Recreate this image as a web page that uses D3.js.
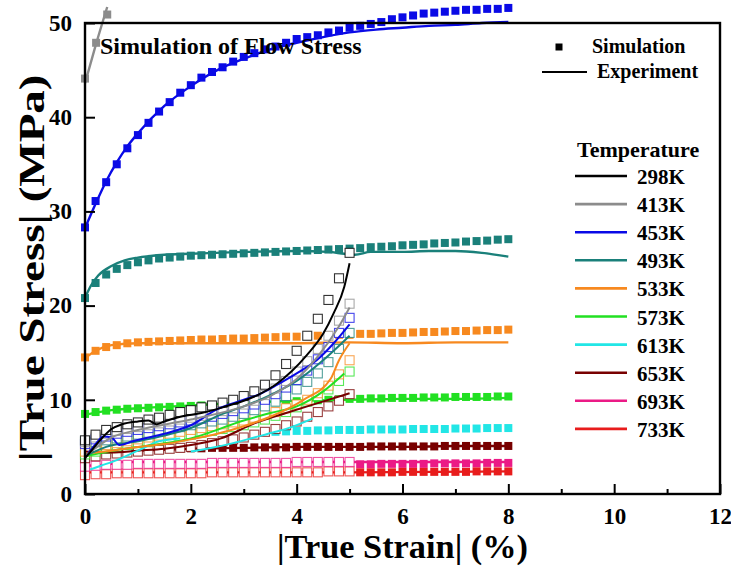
<!DOCTYPE html>
<html><head><meta charset="utf-8">
<script src="https://cdn.jsdelivr.net/npm/d3@7/dist/d3.min.js"></script>
<style>
body{margin:0;background:#fff}
svg{display:block}
text{font-family:"Liberation Serif","Times New Roman",serif;font-weight:bold;fill:#000}
</style>
</head><body>
<svg id="chart" width="731" height="566"></svg>
<script>
// Temperatures and their colours
const temps = ["298K","413K","453K","493K","533K","573K","613K","653K","693K","733K"];
const tempColors = ["#000000","#8c8c8c","#0a0ae6","#1a807a","#f7891f","#22e022","#22e6e6","#780000","#eb1a86","#e81c1c"];

// Axis ticks
const xTicks = [0,2,4,6,8,10,12];
const xMinorTicks = [1,3,5,7,9,11];
const yTicks = [0,10,20,30,40,50];

// Simulated flow stress (filled squares), sampled every 0.2 % strain
const simStep = 0.2;
const sim413 = [[0,44.1],[0.21,47.9],[0.42,50.9]];
const sim453 = [28.3,31.1,33.1,35.0,36.7,38.1,39.4,40.6,41.6,42.6,43.4,44.2,44.8,45.3,45.9,46.4,46.8,47.2,47.5,47.9,48.3,48.5,48.7,49.0,49.2,49.5,49.7,49.9,50.1,50.4,50.6,50.8,51.0,51.1,51.2,51.3,51.4,51.4,51.5,51.5,51.6];
const sim493 = [20.8,22.4,23.3,23.9,24.3,24.6,24.8,25.0,25.1,25.2,25.3,25.35,25.4,25.45,25.5,25.55,25.6,25.65,25.7,25.75,25.8,25.85,25.9,25.95,26.0,26.05,26.1,26.2,26.25,26.3,26.4,26.45,26.5,26.6,26.65,26.7,26.8,26.85,26.9,27.0,27.05];
const sim533 = [14.5,15.2,15.6,15.8,16.0,16.1,16.15,16.2,16.25,16.3,16.35,16.4,16.4,16.45,16.5,16.5,16.55,16.6,16.65,16.7,16.7,16.75,16.8,16.85,16.9,16.9,17.0,17.0,17.05,17.1,17.1,17.15,17.2,17.2,17.25,17.3,17.3,17.35,17.4,17.4,17.45];
const sim573 = [8.5,8.7,8.85,8.95,9.05,9.1,9.15,9.2,9.25,9.3,9.35,9.4,9.45,9.5,9.55,9.6,9.65,9.7,9.75,9.8,9.85,9.9,9.95,10.0,10.05,10.1,10.1,10.15,10.15,10.2,10.2,10.2,10.25,10.25,10.25,10.3,10.3,10.3,10.3,10.35,10.35];
const sim613Start = 3.6;
const sim613 = [6.6,6.65,6.7,6.7,6.75,6.75,6.8,6.8,6.8,6.85,6.85,6.85,6.85,6.9,6.9,6.9,6.9,6.95,6.95,6.95,7.0,7.0,7.0];
const sim653 = [4.6,4.65,4.7,4.7,4.75,4.75,4.8,4.8,4.8,4.85,4.85,4.85,4.9,4.9,4.9,4.9,4.95,4.95,4.95,4.95,5.0,5.0,5.0,5.0,5.0,5.0,5.0,5.05,5.05,5.05,5.05,5.05,5.05,5.05,5.1,5.1,5.1,5.1,5.1,5.1,5.1];
const sim693Start = 5.2;
const sim693 = [3.15,3.15,3.2,3.2,3.2,3.2,3.2,3.25,3.25,3.25,3.25,3.25,3.3,3.3,3.3];
const sim733Start = 5.2;
const sim733 = [2.3,2.3,2.3,2.3,2.35,2.35,2.35,2.35,2.35,2.35,2.35,2.4,2.4,2.4,2.4];

// Measured flow stress (solid lines), [strain %, stress MPa]
const exp413 = [[0,43.6],[0.2,47.6],[0.42,51.7]];
const exp453 = [[0,28.2],[0.2,30.8],[0.4,33.2],[0.6,35.2],[0.8,36.9],[1.0,38.3],[1.5,41.2],[2.0,43.3],[2.5,45.0],[3.0,46.2],[3.5,47.2],[4.0,47.9],[4.5,48.5],[5.0,49.0],[5.5,49.3],[6.0,49.5],[6.5,49.7],[7.0,49.8],[7.5,50.0],[8.0,50.1]];
const exp493 = [[0,20.8],[0.1,22.0],[0.25,23.2],[0.5,24.2],[0.75,24.8],[1.0,25.1],[1.5,25.4],[2.0,25.5],[3.0,25.7],[4.0,25.8],[4.6,25.7],[4.9,25.5],[5.1,25.4],[5.4,25.7],[6.0,25.7],[6.5,25.8],[7.0,25.8],[7.5,25.6],[8.0,25.2]];
const exp533 = [[0,14.4],[0.2,15.2],[0.5,15.8],[1.0,16.0],[2.0,16.0],[4.0,16.0],[5.0,16.1],[6.0,16.0],[7.0,16.1],[8.0,16.1]];
const exp573 = [[0,8.4],[0.5,8.9],[1,9.1],[2,9.4],[3,9.7],[4,9.9],[5,10.0],[6,10.1],[7,10.1],[8,10.2]];
const exp653 = [[0,4.7],[0.3,4.4],[0.6,4.5],[1,4.6],[2,4.8],[3,4.9],[4,5.0],[5,5.0],[6,5.0],[7,5.1],[8,5.1]];
const exp693 = [[0,3.0],[0.4,3.1],[0.7,3.4],[2,3.4],[4,3.4],[5,3.4],[6,3.4],[8,3.4]];
const exp733 = [[0,2.3],[2,2.3],[5,2.3],[8,2.4]];

// Low-stress data set up to 5 % strain (open squares), every 0.2 % strain
const open298 = [5.7,6.3,6.8,7.1,7.4,7.6,7.9,8.1,8.4,8.7,8.9,9.2,9.4,9.7,10.0,10.4,10.9,11.6,12.6,13.8,15.2,16.8,18.6,20.6,22.9,25.6];
const open413 = [5.5,6.0,6.4,6.7,6.9,7.1,7.3,7.5,7.7,7.9,8.1,8.3,8.5,8.8,9.1,9.5,9.9,10.5,11.2,12.0,13.0,14.1,15.4,16.8,18.4,20.2];
const open453 = [5.3,5.8,6.1,6.4,6.6,6.8,7.0,7.2,7.4,7.6,7.8,8.0,8.2,8.5,8.8,9.1,9.5,10.0,10.6,11.3,12.1,13.1,14.3,15.6,17.1,18.7];
const open493 = [5.6,5.5,5.7,5.9,6.1,6.3,6.5,6.7,6.9,7.1,7.3,7.5,7.7,7.9,8.2,8.5,8.9,9.3,9.8,10.4,11.1,11.9,12.8,14.0,15.4,17.1];
const open533 = [4.5,4.9,5.2,5.4,5.6,5.8,6.0,6.2,6.4,6.6,6.8,7.0,7.2,7.4,7.6,7.8,8.1,8.4,8.7,9.1,9.5,10.0,10.7,11.5,12.7,14.2];
const open573 = [4.2,4.5,4.8,5.0,5.2,5.4,5.5,5.7,5.9,6.1,6.3,6.5,6.7,6.9,7.1,7.3,7.6,7.9,8.3,8.7,9.2,9.8,10.4,11.1,12.0,13.0];
const open653 = [3.8,4.0,4.2,4.3,4.4,4.5,4.6,4.7,4.8,4.9,5.0,5.2,5.4,5.6,5.8,6.0,6.3,6.6,6.9,7.3,7.7,8.2,8.7,9.3,9.9,10.6];
const open693 = [2.9,3.0,3.1,3.1,3.1,3.2,3.2,3.2,3.2,3.2,3.2,3.2,3.3,3.3,3.3,3.3,3.3,3.3,3.3,3.3,3.4,3.4,3.4,3.4,3.4,3.4];
const open733 = [2.0,2.1,2.1,2.2,2.2,2.2,2.2,2.2,2.2,2.2,2.2,2.2,2.3,2.3,2.3,2.3,2.3,2.3,2.3,2.3,2.3,2.3,2.3,2.4,2.4,2.4];

// Low-stress measured curves (thin lines)
const low298 = [[0,3.8],[0.15,4.8],[0.3,5.8],[0.5,6.9],[0.7,7.4],[1.0,7.7],[1.2,7.8],[1.35,7.4],[1.5,7.7],[1.8,8.2],[2.2,8.6],[2.6,9.2],[3.0,9.9],[3.3,10.6],[3.6,11.6],[3.9,13.0],[4.2,14.8],[4.5,17.0],[4.7,19.2],[4.9,22.0],[5.0,24.5]];
const low413 = [[0,4.0],[0.5,6.0],[1,6.8],[2,7.9],[3,9.3],[3.5,10.4],[4,12.2],[4.4,14.6],[4.8,17.8],[5.0,19.8]];
const low453 = [[0,3.9],[0.2,5.3],[0.35,6.1],[0.5,6.0],[0.65,5.2],[0.9,5.6],[1.5,6.4],[2.0,7.3],[2.5,9.0],[3.0,10.0],[3.3,10.6],[3.6,11.5],[4.0,12.8],[4.4,14.3],[4.7,16.0],[5.0,18.0]];
const low493 = [[0,4.0],[0.4,5.0],[1.0,5.6],[1.5,6.2],[2.0,7.0],[2.6,8.5],[3.0,9.3],[3.5,10.5],[4.0,12.0],[4.5,14.2],[5.0,16.8]];
const low533 = [[0,4.3],[0.5,4.6],[1.0,5.0],[1.5,5.3],[2.0,5.8],[2.5,6.4],[3.0,7.2],[3.5,8.2],[4.13,10.0],[4.64,12.2],[4.8,14.2],[5.0,16.0]];
const low573 = [[0,4.0],[0.5,4.6],[1,5.0],[2,5.9],[3.0,7.8],[3.5,8.6],[4.0,9.3],[4.5,10.9],[4.9,12.8]];
const low613a = [[0.1,2.6],[0.3,3.0],[0.6,3.6],[1.0,4.6],[1.4,5.6],[1.8,5.9]];
const low613b = [[2.0,4.5],[2.4,4.9],[2.8,5.4],[3.2,6.0],[3.6,6.6],[3.9,7.1],[4.3,8.0]];
const low653 = [[0,4.5],[0.5,4.4],[1.0,4.6],[1.5,4.8],[2.0,5.2],[2.57,5.9],[3.2,7.5],[3.8,8.6],[4.43,9.7],[5.0,10.7]];

// Build series tables
const bySample = (vals, start) => vals.map((v, i) => [start + i * simStep, v]);
const simSeries = [
  {c:1, pts: sim413},
  {c:2, pts: bySample(sim453, 0)},
  {c:3, pts: bySample(sim493, 0)},
  {c:4, pts: bySample(sim533, 0)},
  {c:5, pts: bySample(sim573, 0)},
  {c:6, pts: bySample(sim613, sim613Start)},
  {c:7, pts: bySample(sim653, 0)},
  {c:8, pts: bySample(sim693, sim693Start)},
  {c:9, pts: bySample(sim733, sim733Start)}
];
const expSeries = [
  {c:9, pts: exp733},{c:8, pts: exp693},{c:7, pts: exp653},{c:5, pts: exp573},
  {c:4, pts: exp533},{c:3, pts: exp493},{c:2, pts: exp453},{c:1, pts: exp413}
];
const openSeries = [
  {c:9, pts: bySample(open733,0)},{c:8, pts: bySample(open693,0)},{c:7, pts: bySample(open653,0)},
  {c:5, pts: bySample(open573,0)},{c:4, pts: bySample(open533,0)},{c:3, pts: bySample(open493,0)},
  {c:2, pts: bySample(open453,0)},{c:1, pts: bySample(open413,0)},{c:0, pts: bySample(open298,0)}
];
const lowSeries = [
  {c:7, pts: low653},{c:6, pts: low613a},{c:6, pts: low613b},{c:5, pts: low573},{c:4, pts: low533},
  {c:3, pts: low493},{c:2, pts: low453},{c:1, pts: low413},{c:0, pts: low298}
];

const svg = d3.select("#chart");
const plotL = 85, plotR = 720, plotT = 23, plotB = 494;
const x = d3.scaleLinear().domain([0,12]).range([plotL,plotR]);
const y = d3.scaleLinear().domain([0,50]).range([plotB,plotT]);
const line = d3.line().x(d => x(d[0])).y(d => y(d[1])).curve(d3.curveMonotoneX);

// Experimental lines
svg.append("g").selectAll("path").data(expSeries).join("path")
  .attr("d", d => line(d.pts)).attr("fill","none")
  .attr("stroke", d => tempColors[d.c]).attr("stroke-width", 2.4);

// Simulation markers
const sq = 8;
svg.append("g").selectAll("g").data(simSeries).join("g")
  .attr("fill", d => tempColors[d.c])
  .selectAll("rect").data(d => d.pts).join("rect")
  .attr("x", d => x(d[0]) - sq/2).attr("y", d => y(d[1]) - sq/2)
  .attr("width", sq).attr("height", sq);

// Open-square data set
const osq = 9;
svg.append("g").selectAll("g").data(openSeries).join("g")
  .attr("stroke", d => tempColors[d.c]).attr("fill","#fff").attr("stroke-width",1.1)
  .attr("stroke-opacity", d => d.c === 0 ? 0.8 : 0.75)
  .selectAll("rect").data(d => d.pts).join("rect")
  .attr("x", d => x(d[0]) - osq/2).attr("y", d => y(d[1]) - osq/2)
  .attr("width", osq).attr("height", osq);

// Low-stress measured lines
svg.append("g").selectAll("path").data(lowSeries).join("path")
  .attr("d", d => line(d.pts)).attr("fill","none")
  .attr("stroke", d => tempColors[d.c]).attr("stroke-width", 2);

// Frame and axes
const axisW = 2.4;
svg.append("rect").attr("x",plotL).attr("y",plotT).attr("width",plotR-plotL).attr("height",plotB-plotT)
  .attr("fill","none").attr("stroke","#000").attr("stroke-width",axisW);

const xAxis = svg.append("g").attr("transform",`translate(0,${plotB})`)
  .call(d3.axisBottom(x).tickValues(xTicks).tickSize(-10).tickPadding(14).tickFormat(d3.format("d")));
const xMinor = svg.append("g").attr("transform",`translate(0,${plotB})`)
  .call(d3.axisBottom(x).tickValues(xMinorTicks).tickSize(-5).tickFormat(""));
const yAxis = svg.append("g").attr("transform",`translate(${plotL},0)`)
  .call(d3.axisLeft(y).tickValues(yTicks).tickSize(-10).tickPadding(13).tickFormat(d3.format("d")));
[xAxis, xMinor, yAxis].forEach(g => {
  g.select(".domain").remove();
  g.selectAll(".tick line").attr("stroke","#000").attr("stroke-width",2);
  g.selectAll("text").attr("font-size",23).attr("font-family",'"Liberation Serif",serif').attr("font-weight","bold").attr("fill","#000");
});

// Axis titles
svg.append("text").attr("x",(plotL+plotR)/2).attr("y",558).attr("text-anchor","middle")
  .attr("font-size",34).attr("textLength",251).attr("lengthAdjust","spacingAndGlyphs")
  .text("|True Strain| (%)");
svg.append("text").attr("transform","translate(44,268) rotate(-90)").attr("text-anchor","middle")
  .attr("font-size",36).attr("textLength",387).attr("lengthAdjust","spacingAndGlyphs")
  .text("|True Stress| (MPa)");

// Title inside plot
svg.append("text").attr("x",100).attr("y",54).attr("font-size",24).text("Simulation of Flow Stress");

// Marker legend
svg.append("rect").attr("x",555.5).attr("y",43.5).attr("width",7).attr("height",7).attr("fill","#000");
svg.append("text").attr("x",592).attr("y",53).attr("font-size",20).text("Simulation");
svg.append("line").attr("x1",542).attr("x2",587).attr("y1",72).attr("y2",72).attr("stroke","#000").attr("stroke-width",2.2);
svg.append("text").attr("x",597).attr("y",78).attr("font-size",20).text("Experiment");

// Temperature legend
svg.append("text").attr("x",577).attr("y",157).attr("font-size",22).text("Temperature");
const leg = svg.append("g").selectAll("g").data(temps).join("g")
  .attr("transform",(d,i) => `translate(0,${176 + i*28.1})`);
leg.append("line").attr("x1",575).attr("x2",627).attr("stroke",(d,i) => tempColors[i]).attr("stroke-width",2.6);
leg.append("text").attr("x",637).attr("y",8).attr("font-size",21).text(d => d);
</script>
</body></html>
